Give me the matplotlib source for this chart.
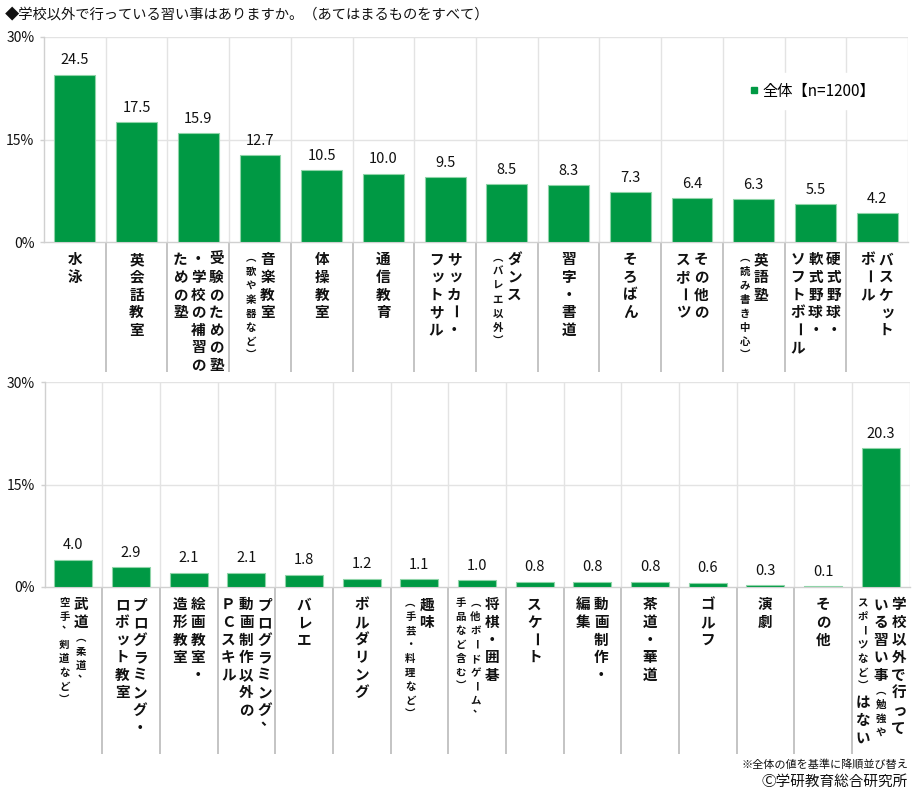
import matplotlib
matplotlib.use('Agg')
import matplotlib.pyplot as plt
from matplotlib.transforms import offset_copy
from matplotlib.lines import Line2D

plt.rcParams['font.family'] = ['Noto Sans CJK JP', 'DejaVu Sans']

# ---------------- data ----------------
title = "◆学校以外で行っている習い事はありますか。（あてはまるものをすべて）"
legend_label = "全体【n=1200】"
ytick_values = [0, 15, 30]
ytick_labels = ["0%", "15%", "30%"]

# labels: list of vertical columns (right to left); [..] = small text
top_labels = [
    ["水泳"],
    ["英会話教室"],
    ["受験のための塾", "・学校の補習の", "ための塾"],
    ["音楽教室", "[（歌や楽器など）]"],
    ["体操教室"],
    ["通信教育"],
    ["サッカー・", "フットサル"],
    ["ダンス", "[（バレエ以外）]"],
    ["習字・書道"],
    ["そろばん"],
    ["その他の", "スポーツ"],
    ["英語塾", "[（読み書き中心）]"],
    ["硬式野球・", "軟式野球・", "ソフトボール"],
    ["バスケット", "ボール"],
]
top_values = [24.5, 17.5, 15.9, 12.7, 10.5, 10.0, 9.5, 8.5, 8.3, 7.3, 6.4, 6.3, 5.5, 4.2]

bottom_labels = [
    ["武道[（柔道、]", "[空手、剣道など）]"],
    ["プログラミング・", "ロボット教室"],
    ["絵画教室・", "造形教室"],
    ["プログラミング、", "動画制作以外の", "ＰＣスキル"],
    ["バレエ"],
    ["ボルダリング"],
    ["趣味", "[（手芸・料理など）]"],
    ["将棋・囲碁", "[（他ボードゲーム、]", "[手品など含む）]"],
    ["スケート"],
    ["動画制作・", "編集"],
    ["茶道・華道"],
    ["ゴルフ"],
    ["演劇"],
    ["その他"],
    ["学校以外で行って", "いる習い事[（勉強や]", "[スポーツなど）]はない"],
]
bottom_values = [4.0, 2.9, 2.1, 2.1, 1.8, 1.2, 1.1, 1.0, 0.8, 0.8, 0.8, 0.6, 0.3, 0.1, 20.3]

note1 = "※全体の値を基準に降順並び替え"
note2 = "Ⓒ学研教育総合研究所"

# ---------------- style ----------------
GREEN = '#009944'
EDGE = '#8fd4a8'
GRID = '#e3e3e3'
AXC = '#d0d0d0'
SEP = '#bfbfbf'
TXT = '#111111'

W, H = 914, 793
fig = plt.figure(figsize=(W / 100, H / 100), dpi=100)


def px_ax(x0, y0, x1, y1):
    return fig.add_axes([x0 / W, 1 - y1 / H, (x1 - x0) / W, (y1 - y0) / H])


ax1 = px_ax(44, 37, 908, 242)
ax2 = px_ax(44.5, 382, 909.5, 587)

NFS, SFS = 10.5, 7.5
NP, SP = 17.6, 14.0
NW, SW = 18.0, 15.0
TOP_GAP = 8.0
VERT = {'（': '︵', '）': '︶'}
ROT = set('ー〜')
PUNCT = set('、。')
SMALLKANA = set('ッっャュョィェォァゃゅょぁぃぅぇぉ')


def parse(col):
    out = []
    small = False
    for ch in col:
        if ch == '[':
            small = True
            continue
        if ch == ']':
            small = False
            continue
        out.append((ch, small))
    return out


def draw_vlabel(ax, xc, columns):
    cols = [parse(c) for c in columns]
    widths = [NW if any(not s for _, s in c) else SW for c in cols]
    right = sum(widths) / 2.0
    base = ax.get_xaxis_transform()
    for c, w in zip(cols, widths):
        cx = right - w / 2.0
        right -= w
        cursor = TOP_GAP
        for ch, small in c:
            fs = SFS if small else NFS
            p = SP if small else NP
            em = fs * 100 / 72.0
            center = cursor + p / 2.0
            cursor += p
            kw = dict(fontsize=fs, color=TXT, clip_on=False, fontweight='bold')
            if ch in ROT:
                tr = offset_copy(base, fig=fig, x=cx, y=-center, units='dots')
                ax.text(xc, 0, ch, transform=tr, rotation=-90,
                        ha='center', va='center', **kw)
            elif ch in PUNCT:
                tr = offset_copy(base, fig=fig, x=cx + 0.22 * em,
                                 y=-center + 0.15 * em, units='dots')
                ax.text(xc, 0, ch, transform=tr, ha='center', va='baseline', **kw)
            else:
                g = VERT.get(ch, ch)
                dx = 0.1 * em if ch in SMALLKANA else 0.0
                tr = offset_copy(base, fig=fig, x=cx + dx,
                                 y=-center - 0.38 * em, units='dots')
                ax.text(xc, 0, g, transform=tr, ha='center', va='baseline', **kw)


def panel(ax, labels, values, sep_len):
    n = len(values)
    x = [i + 0.5 for i in range(n)]
    ax.set_xlim(0, n)
    ax.set_ylim(0, 30)
    ax.set_yticks(ytick_values)
    ax.set_yticklabels(ytick_labels, fontsize=10, color=TXT)
    ax.set_xticks([])
    ax.tick_params(axis='y', length=3, width=1, color=AXC, pad=4)
    for s in ('top', 'right'):
        ax.spines[s].set_visible(False)
    for s in ('left', 'bottom'):
        ax.spines[s].set_color(AXC)
        ax.spines[s].set_linewidth(1)
    for yv in ytick_values[1:]:
        ax.axhline(yv, color=GRID, lw=1, zorder=0)
    for k in range(1, n + 1):
        ax.axvline(k, color=GRID, lw=1, zorder=0)
    bars = ax.bar(x, values, width=0.66, color=GREEN, edgecolor=EDGE,
                  linewidth=0.8, zorder=3)
    for b, v in zip(bars, values):
        ax.annotate(f"{v:.1f}", (b.get_x() + b.get_width() / 2, v),
                    xytext=(0, 7.5), textcoords='offset points',
                    ha='center', va='baseline', fontsize=10.5, color=TXT)
    hpx = ax.get_position().height * H
    ax.vlines(range(1, n), 0, -sep_len / hpx, transform=ax.get_xaxis_transform(),
              colors=SEP, lw=1.3, clip_on=False)
    for xi, lab in zip(x, labels):
        draw_vlabel(ax, xi, lab)
    return bars


panel(ax1, top_labels, top_values, 130)
panel(ax2, bottom_labels, bottom_values, 167)

handle = Line2D([], [], marker='s', ls='none', color=GREEN, markersize=5)
leg = ax1.legend([handle], [legend_label], loc='center',
                 bbox_to_anchor=((812 - 44) / 864, (242 - 91) / 205),
                 frameon=True, fontsize=11, handlelength=0.6, handletextpad=0.25,
                 borderpad=0.6, fancybox=False)
leg.get_frame().set_edgecolor('white')
leg.get_frame().set_facecolor('white')
leg.get_frame().set_alpha(1)
leg.set_zorder(5)

fig.text(5 / W, 1 - 14 / H, title, fontsize=10.3, ha='left', va='center', color=TXT)
fig.text(908 / W, 1 - 765 / H, note1, fontsize=8, ha='right', va='center', color=TXT)
fig.text(908 / W, 1 - 782 / H, note2, fontsize=10.5, ha='right', va='center', color=TXT)

fig.savefig('out.png', dpi=100)
